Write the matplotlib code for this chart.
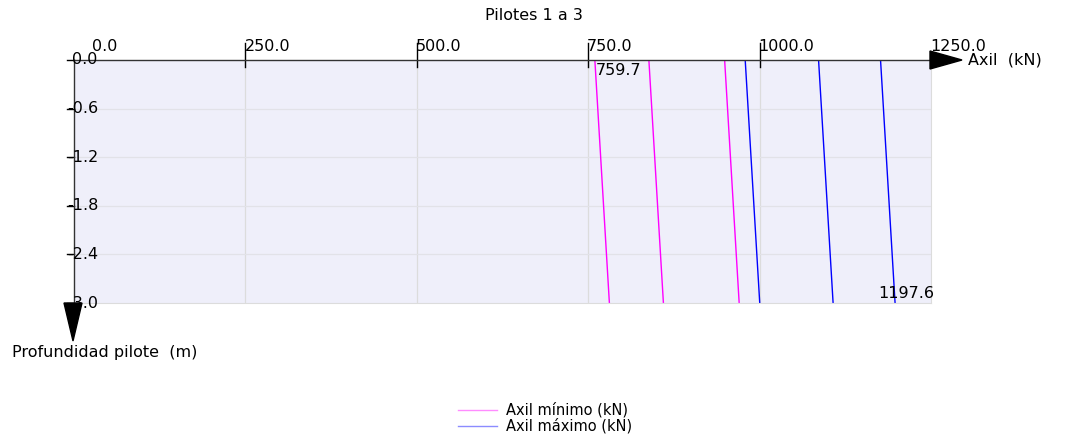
import matplotlib
matplotlib.use("Agg")
import matplotlib.pyplot as plt
from matplotlib.patches import Polygon

# axil values (kN) at top (0 m) and at tip (-3 m) for each pile line
depth = [0.0, -3.0]
axil_min = [[759.7, 780.9], [838.5, 859.7], [949.0, 970.2]]
axil_max = [[979.0, 1000.2], [1086.0, 1107.2], [1176.4, 1197.6]]
x_ticks = [0.0, 250.0, 500.0, 750.0, 1000.0, 1250.0]
y_ticks = [0.0, -0.6, -1.2, -1.8, -2.4, -3.0]

plt.rcParams["font.family"] = ["DejaVu Sans"]

fig = plt.figure(figsize=(10.9, 4.4), dpi=100)
ax = fig.add_axes([74 / 1090, 1 - 303 / 440, (931 - 74) / 1090, (303 - 60) / 440])
ax.set_facecolor("#efeffa")
ax.set_xlim(0, 1250)
ax.set_ylim(-3.0, 0.0)

for xv in x_ticks[1:-1]:
    ax.axvline(xv, color="#dcdcdc", lw=0.9, zorder=0)
for yv in y_ticks[1:-1]:
    ax.axhline(yv, color="#e2e2e8", lw=0.9, zorder=0)

for xs in axil_min:
    ax.plot(xs, depth, color="#ff00ff", lw=1.0)
for xs in axil_max:
    ax.plot(xs, depth, color="#0000ff", lw=1.0)

ax.set_xticks([])
ax.set_yticks([])
for s in ["right", "bottom"]:
    ax.spines[s].set_color("#dcdcdc")
for s in ["top", "left"]:
    ax.spines[s].set_color("#333333")
    ax.spines[s].set_linewidth(1.0)

# tick marks + labels drawn by hand (they sit over the axis lines)
tr_x = ax.get_xaxis_transform()
for xv in x_ticks[1:-1]:
    ax.plot([xv, xv], [0.97, 1.07], color="black", lw=1.0, transform=tr_x, clip_on=False)
for xv in x_ticks:
    off = 18 if xv == 0 else -1
    ax.annotate(f"{xv:.1f}", xy=(xv, 1.0), xycoords=tr_x, xytext=(off, 6),
                textcoords="offset pixels", ha="left", va="bottom", fontsize=11.5)

tr_y = ax.get_yaxis_transform()
for yv in y_ticks:
    ax.plot([-0.008, 0.0], [yv, yv], color="black", lw=1.0, transform=tr_y, clip_on=False)
    off = -2 if yv == 0 else -7
    ax.annotate(f"{yv:.1f}", xy=(0.0, yv), xycoords=tr_y, xytext=(off, 0),
                textcoords="offset pixels", ha="left", va="center", fontsize=11.5)

# value labels at the ends
ax.annotate(f"{axil_min[0][0]:.1f}", xy=(axil_min[0][0], 0.0), xytext=(1, -3),
            textcoords="offset pixels", ha="left", va="top", fontsize=11.5)
ax.annotate(f"{axil_max[-1][1]:.1f}", xy=(axil_max[-1][1], -3.0), xytext=(39, 2),
            textcoords="offset pixels", ha="right", va="bottom", fontsize=11.5)

# axis arrows
W, H = 1090, 440
def px(x, y):
    return (x / W, 1 - y / H)
fig.patches.append(Polygon([px(930, 51), px(930, 69), px(962, 60)], closed=True,
                           color="black", transform=fig.transFigure))
fig.patches.append(Polygon([px(64, 303), px(82, 303), px(73, 341)], closed=True,
                           color="black", transform=fig.transFigure))

fig.text(*px(968, 60), "Axil  (kN)", ha="left", va="center", fontsize=11.5)
fig.text(*px(12, 353), "Profundidad pilote  (m)", ha="left", va="center", fontsize=11.5)
fig.text(*px(534, 16), "Pilotes 1 a 3", ha="center", va="center", fontsize=11.5)

# legend
fig.lines.append(plt.Line2D([458 / W, 497 / W], [1 - 410 / H, 1 - 410 / H],
                            color="#ff00ff", alpha=0.45, lw=1.0, transform=fig.transFigure))
fig.lines.append(plt.Line2D([458 / W, 497 / W], [1 - 426 / H, 1 - 426 / H],
                            color="#0000ff", alpha=0.45, lw=1.0, transform=fig.transFigure))
fig.text(*px(506, 410), "Axil mínimo (kN)", ha="left", va="center", fontsize=10.5)
fig.text(*px(506, 426), "Axil máximo (kN)", ha="left", va="center", fontsize=10.5)

fig.savefig("out.png", dpi=100)
